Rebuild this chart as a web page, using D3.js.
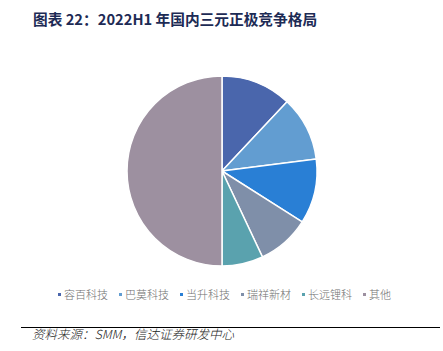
<!doctype html>
<html>
  <head>
    <meta charset="utf-8" />
    <title>2022H1 三元正极竞争格局</title>
    <script type="text/javascript" src="https://cdnjs.cloudflare.com/ajax/libs/d3/7.8.5/d3.min.js"></script>
    <style>
      body {
        margin:0;
        background:#fff;
        font-family:"Noto Sans CJK SC", sans-serif;
      }
      #chart svg {
        display:block;
      }
    </style>
  </head>
  <body>
    <div id="chart"></div>
    <script type="text/javascript">

/*data (share, %)*/
var companies = ["容百科技", "巴莫科技", "当升科技", "瑞祥新材", "长远锂科", "其他"];
var shares = [12, 11, 11, 9, 7, 50];
var colors = ["#4a66ac", "#629dd1", "#297fd5", "#7f8fa9", "#5aa2ae", "#9d90a0"];

var titleText = "图表 22：2022H1 年国内三元正极竞争格局";
var sourceText = "资料来源：SMM，信达证券研发中心";

var width = 443, height = 351;

var svg = d3.select("#chart").append("svg")
  .attr("width", width)
  .attr("height", height);

/*title*/
svg.append("text")
  .attr("x", 33)
  .attr("y", 25)
  .attr("font-size", 14.7)
  .attr("font-weight", "bold")
  .attr("fill", "#1d2b55")
  .text(titleText);

/*pie*/
var cx = 222, cy = 171, r = 95;

var rows = companies.map(function(c, i) {
  return {name: c, value: shares[i], color: colors[i]};
});

var pie = d3.pie()
  .sort(null)
  .value(function(d) { return d.value; });

var arc = d3.arc()
  .innerRadius(0)
  .outerRadius(r);

svg.append("g")
  .attr("transform", "translate(" + cx + "," + cy + ")")
  .selectAll("path")
  .data(pie(rows))
  .join("path")
  .attr("d", arc)
  .attr("fill", function(d) { return d.data.color; })
  .attr("stroke", "#fff")
  .attr("stroke-width", 1.5);

/*legend*/
var legendX = d3.scalePoint()
  .domain(companies)
  .range([58, 363]);

var legend = svg.append("g")
  .selectAll("g")
  .data(rows)
  .join("g")
  .attr("transform", function(d) { return "translate(" + legendX(d.name) + ",295)"; });

legend.append("rect")
  .attr("x", 0)
  .attr("y", -2)
  .attr("width", 3)
  .attr("height", 3)
  .attr("fill", function(d) { return d.color; });

legend.append("text")
  .attr("x", 6)
  .attr("y", 4)
  .attr("font-size", 11)
  .attr("font-weight", 300)
  .attr("fill", "#707070")
  .text(function(d) { return d.name; });

/*source line*/
svg.append("line")
  .attr("x1", 21)
  .attr("x2", 440)
  .attr("y1", 327.5)
  .attr("y2", 327.5)
  .attr("stroke", "#000")
  .attr("stroke-width", 1);

svg.append("text")
  .attr("x", 32)
  .attr("y", 339)
  .attr("font-size", 12.5)
  .attr("font-style", "italic")
  .attr("font-weight", 300)
  .attr("fill", "#222")
  .text(sourceText);

    </script>
  </body>
</html>
